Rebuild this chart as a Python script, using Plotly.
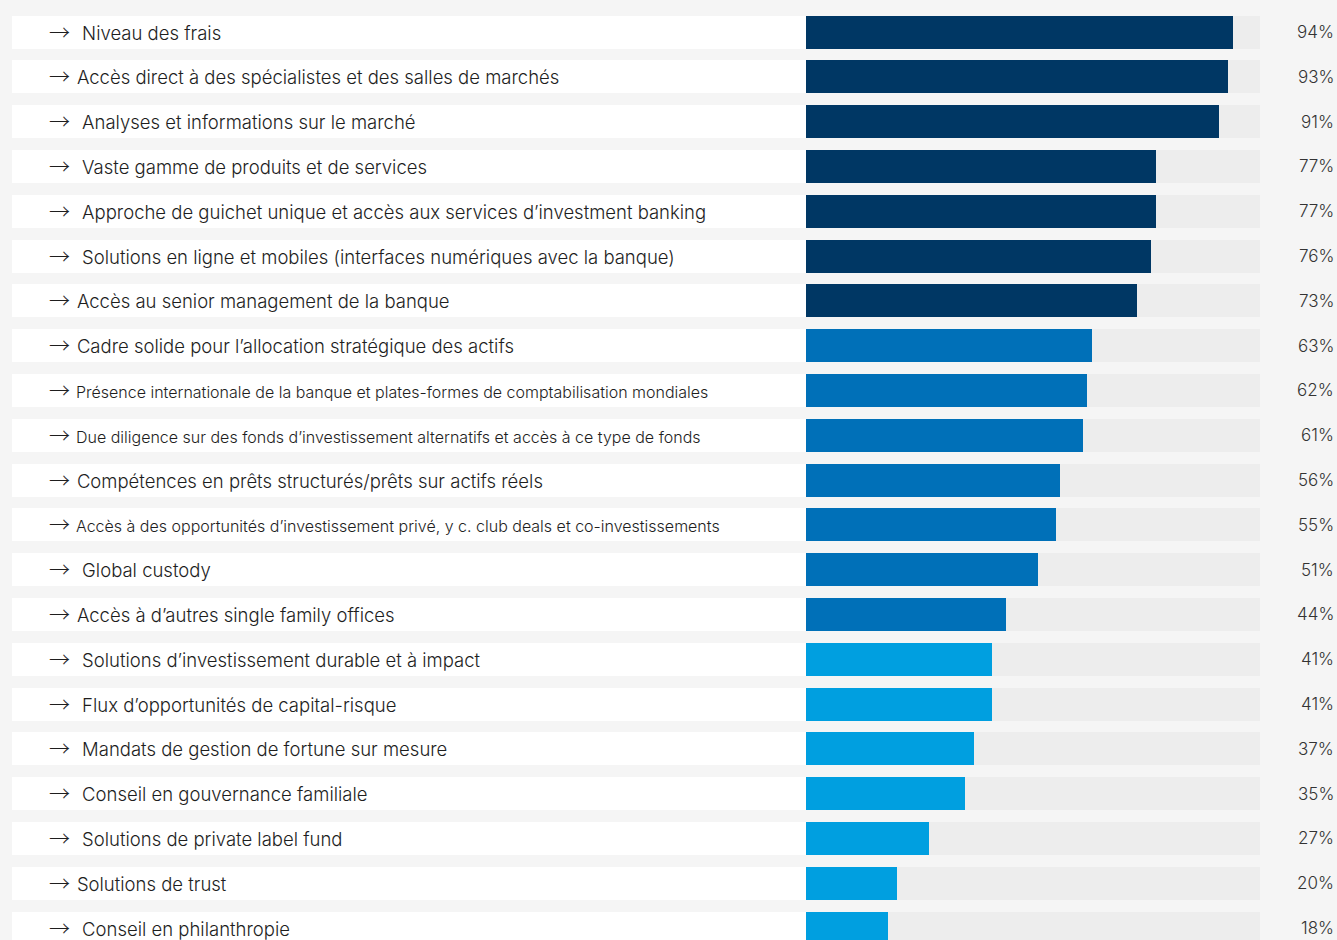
import plotly.graph_objects as go

categories = [
    "Niveau des frais",
    "Accès direct à des spécialistes et des salles de marchés",
    "Analyses et informations sur le marché",
    "Vaste gamme de produits et de services",
    "Approche de guichet unique et accès aux services d’investment banking",
    "Solutions en ligne et mobiles (interfaces numériques avec la banque)",
    "Accès au senior management de la banque",
    "Cadre solide pour l’allocation stratégique des actifs",
    "Présence internationale de la banque et plates-formes de comptabilisation mondiales",
    "Due diligence sur des fonds d’investissement alternatifs et accès à ce type de fonds",
    "Compétences en prêts structurés/prêts sur actifs réels",
    "Accès à des opportunités d’investissement privé, y c. club deals et co-investissements",
    "Global custody",
    "Accès à d’autres single family offices",
    "Solutions d’investissement durable et à impact",
    "Flux d’opportunités de capital-risque",
    "Mandats de gestion de fortune sur mesure",
    "Conseil en gouvernance familiale",
    "Solutions de private label fund",
    "Solutions de trust",
    "Conseil en philanthropie",
]
values = [94, 93, 91, 77, 77, 76, 73, 63, 62, 61, 56, 55, 51, 44, 41, 41, 37, 35, 27, 20, 18]
groups = [0] * 7 + [1] * 7 + [2] * 7
wide_gap = [1, 0, 1, 1, 1, 1, 0, 0, 0, 0, 0, 0, 1, 0, 1, 1, 1, 1, 1, 0, 1]
small_font = [0, 0, 0, 0, 0, 0, 0, 0, 1, 1, 0, 1, 0, 0, 0, 0, 0, 0, 0, 0, 0]
value_labels = [f"{v}%" for v in values]

group_colors = ["#003764", "#0070b8", "#009fe0"]
track_color = "#ededed"
page_bg = "#f5f5f5"

W, H = 1337, 940
row_px = 44.8
first_center = 32
y_top = -first_center / row_px
y_bottom = y_top + H / row_px
bar_w = 33 / row_px
idx = list(range(len(categories)))

fig = go.Figure()

# white label bands
fig.add_trace(go.Bar(
    x=[1] * len(idx), y=idx, orientation="h", xaxis="x2", yaxis="y",
    marker=dict(color="white", line=dict(width=0)), width=bar_w,
    hoverinfo="skip", showlegend=False,
))
# grey track
fig.add_trace(go.Bar(
    x=[100] * len(idx), y=idx, orientation="h", xaxis="x", yaxis="y",
    marker=dict(color=track_color, line=dict(width=0)), width=bar_w,
    hoverinfo="skip", showlegend=False,
))
# value bars
fig.add_trace(go.Bar(
    x=values, y=idx, orientation="h", xaxis="x", yaxis="y",
    marker=dict(color=[group_colors[g] for g in groups], line=dict(width=0)),
    width=bar_w, showlegend=False,
))

arrow = '<span style="font-family:\'Noto Sans CJK JP\';font-size:21px">→</span>'
annotations = []
for i, (cat, gap, sm, lab) in enumerate(zip(categories, wide_gap, small_font, value_labels)):
    if sm:
        sep = "\u00a0\u200a"
    else:
        sep = "\u00a0\u00a0\u200a" if gap else "\u00a0\u200a"
    annotations.append(dict(
        x=(47 - 12) / (806 - 12), xref="x2", y=i, yref="y", yshift=1.5,
        text=arrow + sep + cat, showarrow=False, xanchor="left", yanchor="middle",
        font=dict(family="Inter, Roboto, sans-serif", size=16 if sm else 18.5,
                  color="#1e1e1e", weight=300),
    ))
    annotations.append(dict(
        x=1, xref="paper", xshift=-1, y=i, yref="y",
        text=lab, showarrow=False, xanchor="right", yanchor="middle",
        font=dict(family="Inter, Roboto, sans-serif", size=17, color="#333333", weight=300),
    ))

fig.update_layout(
    width=W, height=H,
    margin=dict(l=0, r=0, t=0, b=0),
    paper_bgcolor=page_bg, plot_bgcolor=page_bg,
    barmode="overlay", bargap=0,
    xaxis=dict(domain=[806 / W, 1260 / W], range=[0, 100], visible=False, fixedrange=True),
    xaxis2=dict(domain=[12 / W, 806 / W], range=[0, 1], visible=False, anchor="y"),
    yaxis=dict(range=[y_bottom, y_top], visible=False),
    annotations=annotations,
)

fig.write_html(
    "out.html",
    config={"displayModeBar": False},
    post_script="document.body.style.margin='0';document.body.style.background='#f5f5f5';",
)
